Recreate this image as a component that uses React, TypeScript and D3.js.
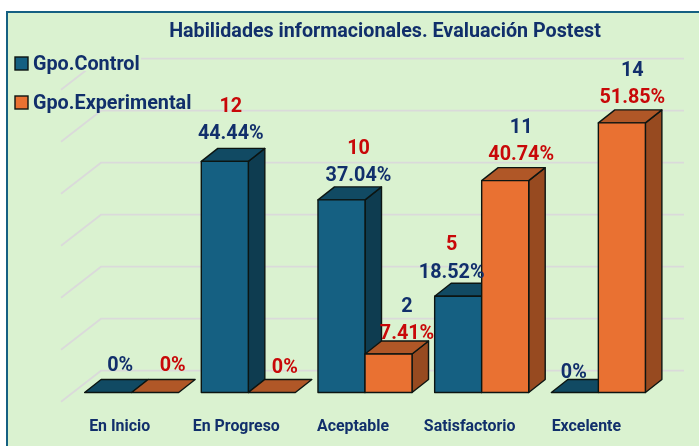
import React from "react";
import * as d3 from "d3";

const title = "Habilidades informacionales. Evaluación Postest";
const categories = ["En Inicio", "En Progreso", "Aceptable", "Satisfactorio", "Excelente"];
const seriesNames = ["Gpo.Control", "Gpo.Experimental"];
const controlPct = [0, 44.44, 37.04, 18.52, 0];
const experimentalPct = [0, 0, 7.41, 40.74, 51.85];
const controlCount = [0, 12, 10, 5, 0];
const experimentalCount = [0, 0, 2, 11, 14];
const gridTicks = [0, 10, 20, 30, 40, 50, 60];

// hand-placed label nudges of the reference (layout, not data)
const controlDx = [12, 6, 17, -6.5, -1];
const controlDy = [-21.3, -22.2, -18.5, -18.5, -15];
const experimentalDx = [17.5, 13, 18.5, 16, 10.5];
const experimentalDy = [-21.3, -20, -14.8, -20.2, -19.5];

const W = 699, H = 446;
const LABEL_BLUE = "#112F6B";
const RED = "#C80808";
const STROKE = "#0c1512";
const FONT = "Roboto, sans-serif";

const palette = [
  { front: "#156082", top: "#114A63", side: "#0E3C50" },
  { front: "#E97132", top: "#B05727", side: "#974A20" },
];

const x = d3.scaleBand<string>().domain(categories).range([73.3, 656.7]).paddingInner(0.194).paddingOuter(0.097);
const sub = d3.scaleBand<string>().domain(seriesNames).range([0, x.bandwidth()]);
const yBack = d3.scaleLinear().domain([0, 60]).range([370.7, 58.7]);
const y = d3.scaleLinear().domain([0, 60]).range([392.5, 80.5]);
const DX = 16.5, DY = -13;
const GX = 40, GY = 31;

const poly = (pts: number[][]) => pts.map((p) => p.join(",")).join(" ");

function Bar({ x0, w, v, c }: { x0: number; w: number; v: number; c: (typeof palette)[0] }) {
  const t = y(v), b = y(0), x1 = x0 + w;
  return (
    <g stroke={STROKE} strokeWidth={1.4} strokeLinejoin="round">
      {v > 0 && <polygon points={poly([[x1, b], [x1 + DX, b + DY], [x1 + DX, t + DY], [x1, t]])} fill={c.side} />}
      <polygon points={poly([[x0, t], [x0 + DX, t + DY], [x1 + DX, t + DY], [x1, t]])} fill={c.top} />
      {v > 0 && <rect x={x0} y={t} width={w} height={b - t} fill={c.front} />}
    </g>
  );
}

export default function App() {
  const series = [controlPct, experimentalPct];
  const counts = [controlCount, experimentalCount];
  const dxs = [controlDx, experimentalDx];
  const dys = [controlDy, experimentalDy];
  const colours = [[LABEL_BLUE, RED], [RED, LABEL_BLUE]];
  const w = sub.bandwidth();
  return (
    <svg width={W} height={H} style={{ position: "fixed", left: 0, top: 0, filter: "blur(0.35px)" }} fontFamily={FONT} fontWeight={700}>
      <rect width={W} height={H} fill="#fff" />
      <rect x={7} y={12} width={W} height={H} fill="#DAF2D0" stroke="#156082" strokeWidth={2} />

      {gridTicks.map((t) => (
        <polyline key={t} fill="none" stroke="#DADADA" strokeWidth={1.8}
          points={poly([[101 - GX, yBack(t) + GY], [101, yBack(t)], [684, yBack(t)]])} />
      ))}

      {/* legend background hides the top gridline */}
      <rect x={10} y={50} width={131} height={21} fill="#DAF2D0" />
      {seriesNames.map((s, i) => (
        <g key={s}>
          <rect x={15} y={57 + i * 39} width={13} height={13} fill={palette[i].front} stroke={STROKE} strokeWidth={1.4} />
          <text x={33} y={69.5 + i * 39.3} fontSize={19.8} fill={LABEL_BLUE}>{s}</text>
        </g>
      ))}

      <text x={385} y={37.3} textAnchor="middle" fontSize={19.7} fill={LABEL_BLUE}>{title}</text>

      {categories.map((cat, ci) => (
        <g key={cat}>
          {seriesNames.map((s, si) => (
            <Bar key={s} x0={x(cat)! + sub(s)!} w={w} v={series[si][ci]} c={palette[si]} />
          ))}
        </g>
      ))}

      {categories.map((cat, ci) =>
        seriesNames.map((s, si) => {
          const cx = x(cat)! + sub(s)! + w / 2 + dxs[si][ci];
          const base = y(series[si][ci]) + dys[si][ci];
          const n = counts[si][ci];
          return (
            <g key={cat + s} fontSize={19.8} textAnchor="middle">
              <text x={cx} y={base} fill={colours[si][0]}>{series[si][ci] === 0 ? "0%" : `${series[si][ci].toFixed(2)}%`}</text>
              {n > 0 && <text x={cx} y={base - 27.3} fill={colours[si][1]}>{n}</text>}
            </g>
          );
        })
      )}

      {categories.map((cat) => (
        <text key={cat} x={x(cat)! + x.bandwidth() / 2 - 12} y={430.7} textAnchor="middle" fontSize={15.9} fill={LABEL_BLUE}>{cat}</text>
      ))}
    </svg>
  );
}
